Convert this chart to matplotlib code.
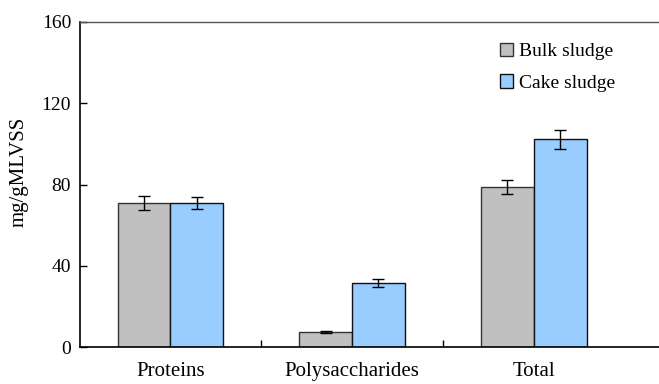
import matplotlib
matplotlib.use("Agg")
import matplotlib.pyplot as plt
import numpy as np
from matplotlib.patches import Patch

categories = ["Proteins", "Polysaccharides", "Total"]
bulk = [71.0, 7.5, 78.9]
bulk_err = [3.4, 0.5, 3.5]
cake = [71.0, 31.4, 102.2]
cake_err = [3.0, 2.0, 4.8]
yticks = [0, 40, 80, 120, 160]

plt.rcParams['font.family'] = ['Liberation Serif', 'DejaVu Serif']

fig = plt.figure(figsize=(6.59, 3.84), dpi=100)
ax = fig.add_axes([79.5/659, 37/384, 1 - 79.5/659, 325/384])

x = np.arange(len(categories))
w = 0.29
ax.bar(x - w/2, bulk, w, color="#C0C0C0", edgecolor="#333333", linewidth=1.0,
       yerr=bulk_err, error_kw=dict(ecolor="black", elinewidth=1.0, capsize=4, capthick=1.0))
ax.bar(x + w/2, cake, w, color="#99CCFF", edgecolor="#111111", linewidth=1.0,
       yerr=cake_err, error_kw=dict(ecolor="black", elinewidth=1.0, capsize=4, capthick=1.0))

ax.set_xlim(-0.5, (659 - 171) / 181.5)
ax.set_ylim(0, 160)
ax.set_yticks(yticks)
ax.set_yticklabels([str(t) for t in yticks], fontsize=14)
ax.set_xticks(x)
ax.set_xticklabels(categories, fontsize=15)
ax.set_xticks([0.5, 1.5], minor=True)
ax.tick_params(axis='x', which='major', length=0, pad=11)
ax.tick_params(axis='x', which='minor', direction='in', length=5, width=1)
ax.tick_params(axis='y', direction='in', length=5, width=1, pad=6)
ax.spines['right'].set_visible(False)
ax.spines['top'].set_color('#555555')
ax.spines['top'].set_linewidth(1.0)
for s in ['left', 'bottom']:
    ax.spines[s].set_linewidth(1.2)
ax.set_ylabel("mg/gMLVSS", fontsize=15)
ax.yaxis.set_label_coords(-0.088, 0.54)

handles = [Patch(facecolor="#C0C0C0", edgecolor="#333333", label="Bulk sludge"),
           Patch(facecolor="#99CCFF", edgecolor="#111111", label="Cake sludge")]
ax.legend(handles=handles, loc='upper left', bbox_to_anchor=(0.695, 0.99), frameon=False,
          fontsize=14, handlelength=0.7, handleheight=0.7, handletextpad=0.3, labelspacing=0.7)

fig.savefig("out.png", dpi=100)
